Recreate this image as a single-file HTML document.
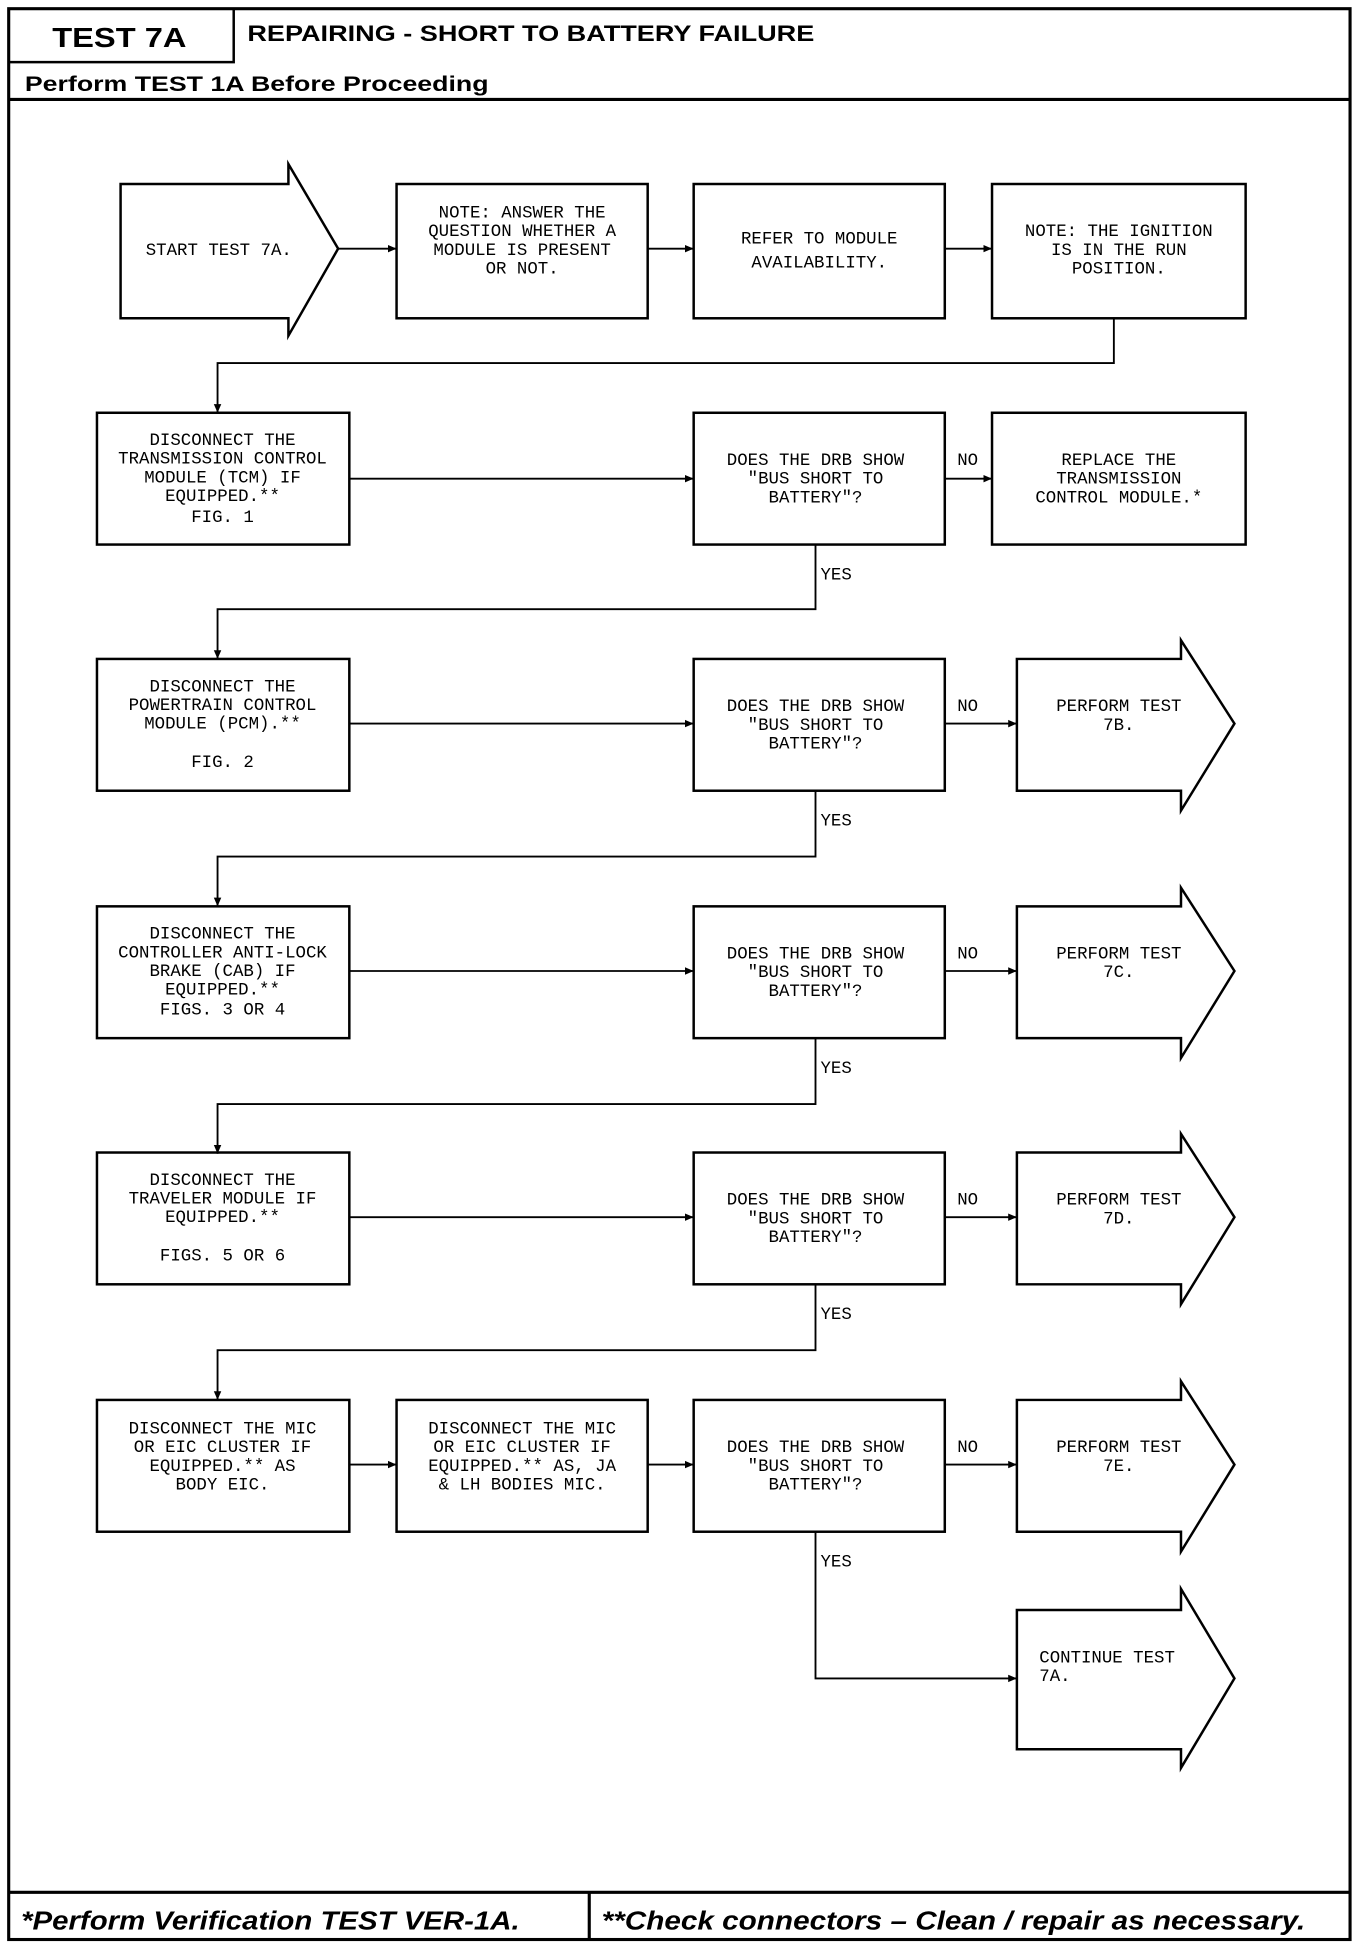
<!DOCTYPE html>
<html><head><meta charset="utf-8"><style>
html,body{margin:0;padding:0;background:#fff;}
svg{display:block;}
.t{font-family:"Liberation Mono",monospace;font-size:14px;fill:#000;text-anchor:middle;}
.l{font-family:"Liberation Mono",monospace;font-size:14px;fill:#000;}
.h{font-family:"Liberation Sans",sans-serif;font-weight:bold;fill:#000;}
</style></head><body>
<svg width="1360" height="1942" viewBox="0 0 1094 1562" preserveAspectRatio="none" xmlns="http://www.w3.org/2000/svg">
<defs><marker id="a" markerWidth="8" markerHeight="8" refX="7" refY="4" orient="auto" markerUnits="userSpaceOnUse"><path d="M0,1 L7,4 L0,7 z" fill="#000"/></marker></defs>
<g fill="none" stroke="#000" stroke-width="2">
<rect x="7" y="7" width="1079" height="1553" stroke-width="2.5"/>
<path d="M7,50 H188 V7"/>
<path d="M7,80 H1086" stroke-width="2.5"/>
<path d="M7,1522 H1086 M474,1522 V1560" stroke-width="2.5"/>
<path d="M97,148 H232 V132 L272,200 L232,270 V256 H97 Z"/>
<rect x="319" y="148" width="202" height="108"/>
<rect x="558" y="148" width="202" height="108"/>
<rect x="798" y="148" width="204" height="108"/>
<g stroke-width="1.5" marker-end="url(#a)">
<path d="M272,200 H319"/><path d="M521,200 H558"/><path d="M760,200 H798"/>
<path d="M896,256 V292 H175 V332"/>
</g>
<rect x="78" y="332" width="203" height="106"/>
<rect x="558" y="332" width="202" height="106"/>
<rect x="798" y="332" width="204" height="106"/>
<g stroke-width="1.5" marker-end="url(#a)">
<path d="M281,385 H558"/><path d="M760,385 H798"/>
<path d="M656,438 V490 H175 V530"/>
</g>
<g id="r3">
<rect x="78" y="530" width="203" height="106"/>
<rect x="558" y="530" width="202" height="106"/>
<path d="M818,530 H950 V515 L993,582 L950,652 V636 H818 Z"/>
<g stroke-width="1.5" marker-end="url(#a)">
<path d="M281,582 H558"/><path d="M760,582 H818"/>
<path d="M656,636 V689 H175 V729"/>
</g>
</g>
<use href="#r3" y="199"/>
<use href="#r3" y="397"/>
<rect x="78" y="1126" width="203" height="106"/>
<rect x="319" y="1126" width="202" height="106"/>
<rect x="558" y="1126" width="202" height="106"/>
<path d="M818,1126 H950 V1111 L993,1178 L950,1248 V1232 H818 Z"/>
<path d="M818,1295 H950 V1278 L993,1350 L950,1422 V1407 H818 Z"/>
<g stroke-width="1.5" marker-end="url(#a)">
<path d="M281,1178 H319"/><path d="M521,1178 H558"/><path d="M760,1178 H818"/>
<path d="M656,1232 V1350 H818"/>
</g>
</g>
<text class="h" x="42" y="38" font-size="22" textLength="108" lengthAdjust="spacingAndGlyphs">TEST 7A</text>
<text class="h" x="199" y="33" font-size="18" textLength="456" lengthAdjust="spacingAndGlyphs">REPAIRING - SHORT TO BATTERY FAILURE</text>
<text class="h" x="20" y="73" font-size="17" textLength="373" lengthAdjust="spacingAndGlyphs">Perform TEST 1A Before Proceeding</text>
<text class="h" x="17" y="1552" font-size="21" font-style="italic" textLength="401" lengthAdjust="spacingAndGlyphs">*Perform Verification TEST VER-1A.</text>
<text class="h" x="484" y="1552" font-size="21" font-style="italic" textLength="566" lengthAdjust="spacingAndGlyphs">**Check connectors – Clean / repair as necessary.</text>

<text class="t" x="176" y="205">START TEST 7A.</text>
<text class="t" x="420" y="175">NOTE: ANSWER THE</text><text class="t" x="420" y="190">QUESTION WHETHER A</text><text class="t" x="420" y="205">MODULE IS PRESENT</text><text class="t" x="420" y="220">OR NOT.</text>
<text class="t" x="659" y="196">REFER TO MODULE</text><text class="t" x="659" y="215">AVAILABILITY.</text>
<text class="t" x="900" y="190">NOTE: THE IGNITION</text><text class="t" x="900" y="205">IS IN THE RUN</text><text class="t" x="900" y="220">POSITION.</text>

<text class="t" x="179" y="358">DISCONNECT THE</text><text class="t" x="179" y="373">TRANSMISSION CONTROL</text><text class="t" x="179" y="388">MODULE (TCM) IF</text><text class="t" x="179" y="403">EQUIPPED.**</text><text class="t" x="179" y="420">FIG. 1</text>
<g id="q"><text class="t" x="656" y="374">DOES THE DRB SHOW</text><text class="t" x="656" y="389">"BUS SHORT TO</text><text class="t" x="656" y="404">BATTERY"?</text>
<text class="l" x="770" y="374">NO</text><text class="l" x="660" y="466">YES</text></g>
<use href="#q" y="198"/><use href="#q" y="397"/><use href="#q" y="595"/><use href="#q" y="794"/>
<text class="t" x="900" y="374">REPLACE THE</text><text class="t" x="900" y="389">TRANSMISSION</text><text class="t" x="900" y="404">CONTROL MODULE.*</text>

<text class="t" x="179" y="556">DISCONNECT THE</text><text class="t" x="179" y="571">POWERTRAIN CONTROL</text><text class="t" x="179" y="586">MODULE (PCM).**</text><text class="t" x="179" y="617">FIG. 2</text>
<text class="t" x="900" y="572">PERFORM TEST</text><text class="t" x="900" y="587">7B.</text>

<text class="t" x="179" y="755">DISCONNECT THE</text><text class="t" x="179" y="770">CONTROLLER ANTI-LOCK</text><text class="t" x="179" y="785">BRAKE (CAB) IF</text><text class="t" x="179" y="800">EQUIPPED.**</text><text class="t" x="179" y="816">FIGS. 3 OR 4</text>
<text class="t" x="900" y="771">PERFORM TEST</text><text class="t" x="900" y="786">7C.</text>

<text class="t" x="179" y="953">DISCONNECT THE</text><text class="t" x="179" y="968">TRAVELER MODULE IF</text><text class="t" x="179" y="983">EQUIPPED.**</text><text class="t" x="179" y="1014">FIGS. 5 OR 6</text>
<text class="t" x="900" y="969">PERFORM TEST</text><text class="t" x="900" y="984">7D.</text>

<text class="t" x="179" y="1153">DISCONNECT THE MIC</text><text class="t" x="179" y="1168">OR EIC CLUSTER IF</text><text class="t" x="179" y="1183">EQUIPPED.** AS</text><text class="t" x="179" y="1198">BODY EIC.</text>
<text class="t" x="420" y="1153">DISCONNECT THE MIC</text><text class="t" x="420" y="1168">OR EIC CLUSTER IF</text><text class="t" x="420" y="1183">EQUIPPED.** AS, JA</text><text class="t" x="420" y="1198">&amp; LH BODIES MIC.</text>
<text class="t" x="900" y="1168">PERFORM TEST</text><text class="t" x="900" y="1183">7E.</text>
<text class="l" x="836" y="1337">CONTINUE TEST</text><text class="l" x="836" y="1352">7A.</text>
</svg>
</body></html>
